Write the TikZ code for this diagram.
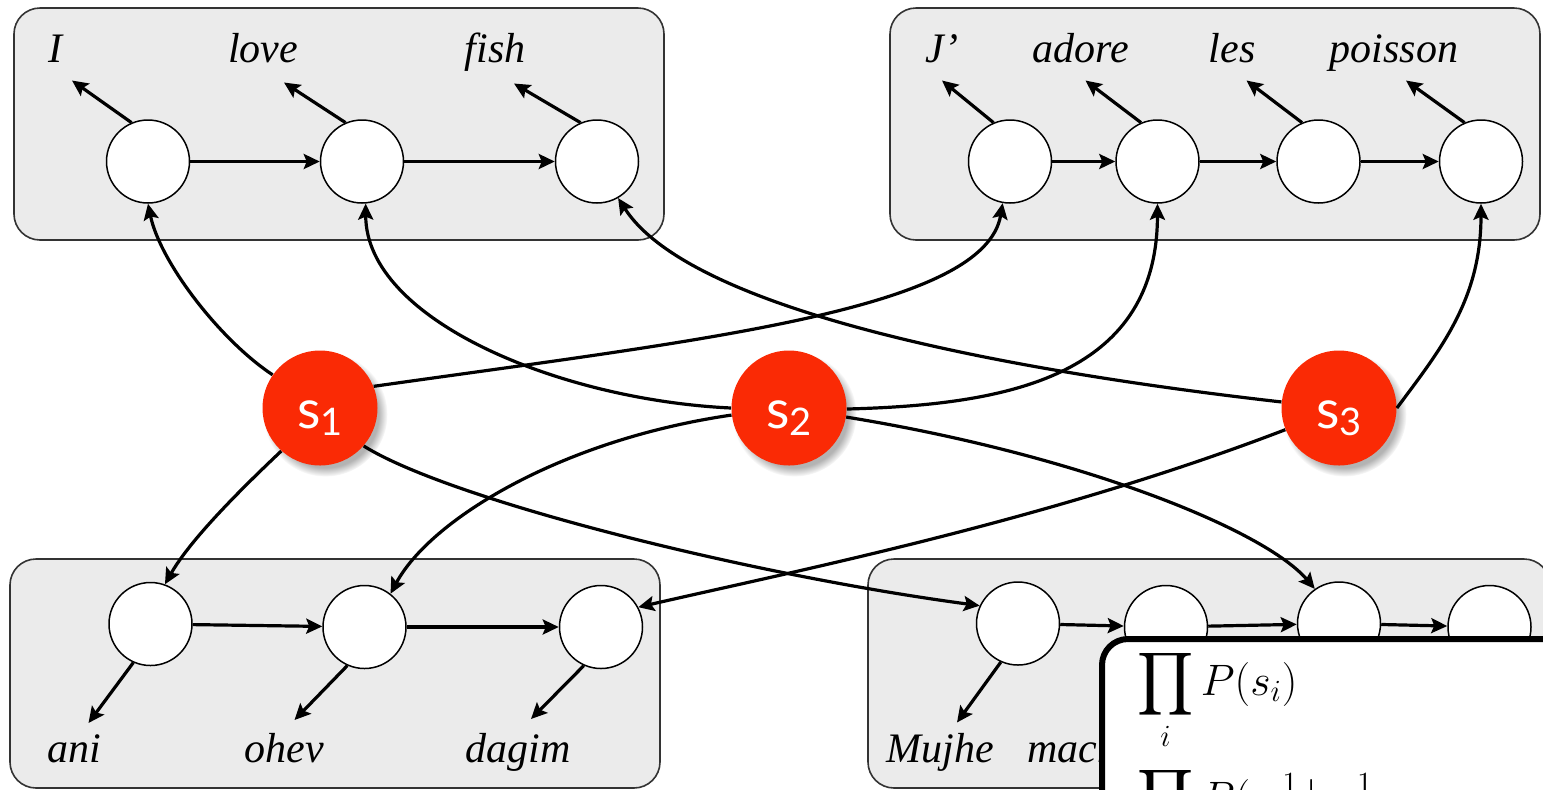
\RequirePackage{fix-cm}
\documentclass[tikz,border=0pt]{standalone}
\usepackage[no-math]{fontspec}
\setmainfont{Liberation Serif}
\newfontfamily\labfont{Lato}
\DeclareFontShape{OMX}{cmex}{m}{n}{<-> cmex10}{}
\usetikzlibrary{arrows.meta,shadows,calc}
\definecolor{boxfill}{RGB}{235,235,235}
\definecolor{sred}{RGB}{250,42,5}
\tikzset{
  panel/.style={draw=black!80, line width=0.8pt, fill=boxfill, rounded corners=13pt, inner sep=0pt},
  hid/.style={circle, draw=black, line width=0.75pt, fill=white, minimum size=41.5pt, inner sep=0pt},
  arr/.style={line width=1.6pt, -{Stealth[length=8pt,width=7.5pt,inset=1.5pt]}},
  word/.style={font=\fontsize{21}{25}\selectfont\itshape, anchor=base, inner sep=0pt},
  snode/.style={circle, fill=sred, minimum size=57.5pt, inner sep=0pt, text=white,
    circular drop shadow={shadow xshift=2.5pt, shadow yshift=-3pt, opacity=0.6, shadow scale=1.08},
    text height=20pt, text depth=0pt, font=\labfont\fontsize{27}{30}\selectfont},
  eqtext/.style={anchor=base west, inner sep=0pt, font=\fontsize{22}{26}\selectfont},
}
\newcommand{\subone}[1]{s\raisebox{-3.5pt}{\fontsize{19}{22}\selectfont #1}}
\begin{document}
\begin{tikzpicture}[x=0.5pt,y=-0.5pt]
\useasboundingbox (0,0) rectangle (1543,789);
\clip (0,0) rectangle (1543,789);

% panels
\node[panel, minimum width=325pt, minimum height=116pt] (TL) at (339,124) {};
\node[panel, minimum width=325pt, minimum height=116pt] (TR) at (1215,124) {};
\node[panel, minimum width=325pt, minimum height=114.5pt] (BL) at (335,673.5) {};
\node[panel, minimum width=341pt, minimum height=114.5pt] (BR) at (1209,673.5) {};

% hidden-state circles
\node[hid] (a1) at (148,161.5) {};
\node[hid] (a2) at (362,161.5) {};
\node[hid] (a3) at (597,161.5) {};
\node[hid] (b1) at (1010,161.5) {};
\node[hid] (b2) at (1157.5,161.5) {};
\node[hid] (b3) at (1318.5,161.5) {};
\node[hid] (b4) at (1481,161.5) {};
\node[hid] (c1) at (150.5,624) {};
\node[hid] (c2) at (364.5,627) {};
\node[hid] (c3) at (601,627) {};
\node[hid] (d1) at (1018,623.5) {};
\node[hid] (d2) at (1166,627) {};
\node[hid] (d3) at (1339,623.5) {};
\node[hid] (d4) at (1489.5,627) {};

% words
\node[word] (wI) at (55,62) {I};
\node[word] (wlove) at (263,62) {love};
\node[word] (wfish) at (495,62) {fish};
\node[word] (wJ) at (942,62) {J’};
\node[word] (wadore) at (1081,62) {adore};
\node[word] (wles) at (1232,62) {les};
\node[word] (wpoisson) at (1394,62) {poisson};
\node[word] (wani) at (74,762) {ani};
\node[word] (wohev) at (284,762) {ohev};
\node[word] (wdagim) at (518,762) {dagim};
\node[word, anchor=base west] (wmujhe) at (886,762) {Mujhe};
\node[word, anchor=base west] (wmachli) at (1027,762) {machli};

% word arrow ends
\coordinate (ta1) at ($(a1)+(-76,-81)$);
\coordinate (ta2) at ($(a2)+(-78,-79)$);
\coordinate (ta3) at ($(a3)+(-83,-78)$);
\coordinate (tb1) at ($(b1)+(-68,-81)$);
\coordinate (tb2) at ($(b2)+(-72,-81)$);
\coordinate (tb3) at ($(b3)+(-72,-81)$);
\coordinate (tb4) at ($(b4)+(-75,-81)$);
\coordinate (tc1) at ($(c1)+(-62,99)$);
\coordinate (tc2) at ($(c2)+(-70,93)$);
\coordinate (tc3) at ($(c3)+(-70,92)$);
\coordinate (td1) at ($(d1)+(-61,99)$);

\foreach \n in {a1,a2,a3,b1,b2,b3,b4} \draw[arr] (\n.113) -- (t\n);
\foreach \n in {c1,c2,c3,d1} \draw[arr] (\n.246) -- (t\n);

% chain arrows
\draw[arr] (a1) -- (a2);
\draw[arr] (a2) -- (a3);
\draw[arr] (b1) -- (b2);
\draw[arr] (b2) -- (b3);
\draw[arr] (b3) -- (b4);
\draw[arr] (c1) -- (c2);
\draw[arr] (c2) -- (c3);
\draw[arr] (d1) -- (d2);
\draw[arr] (d2) -- (d3);
\draw[arr] (d3) -- (d4);

% alignment states
\node[snode] (s1) at (320,408) {\subone{1}};
\node[snode] (s2) at (789,408) {\subone{2}};
\node[snode] (s3) at (1339,408) {\subone{3}};

% connectors from s1
\draw[arr] (s1.145) .. controls (220,340) and (160,262) .. (a1.south);
\draw[arr] (s1.22) .. controls (700,340) and (985,310) .. (b1.-100);
\draw[arr] (s1.-132) .. controls (240,490) and (190,540) .. (c1.70);
\draw[arr] (s1.-41) .. controls (450,500) and (750,575) .. (d1.155);
% connectors from s2
\draw[arr] (s2.180) .. controls (560,400) and (366,320) .. (a2.-85);
\draw[arr] (s2.-1) .. controls (1000,405) and (1157,380) .. (b2.south);
\draw[arr] (s2.187) .. controls (560,440) and (430,520) .. (c2.52);
\draw[arr] (s2.-9) .. controls (1080,455) and (1265,530) .. (d3.125);
% connectors from s3
\draw[arr] (s3.174) .. controls (1000,370) and (690,310) .. (a3.-60);
\draw[arr] (s3.0) .. controls (1440,350) and (1481,300) .. (b4.south);
\draw[arr] (s3.202) .. controls (1050,520) and (800,570) .. (c3.28);

% overlay formula panel
\draw[line width=3pt, fill=white, rounded corners=13pt] (1102,639) rectangle (1660,920);
\node[eqtext] (eq1) at (1137,695) {$\displaystyle\prod_i P(s_i)$};
\node[eqtext] (eq2) at (1137,812) {$\displaystyle\prod_j P(w^1_j \,|\, w^1_{j-1},\, s_{a_j},\, a_j)$};
\end{tikzpicture}
\end{document}
